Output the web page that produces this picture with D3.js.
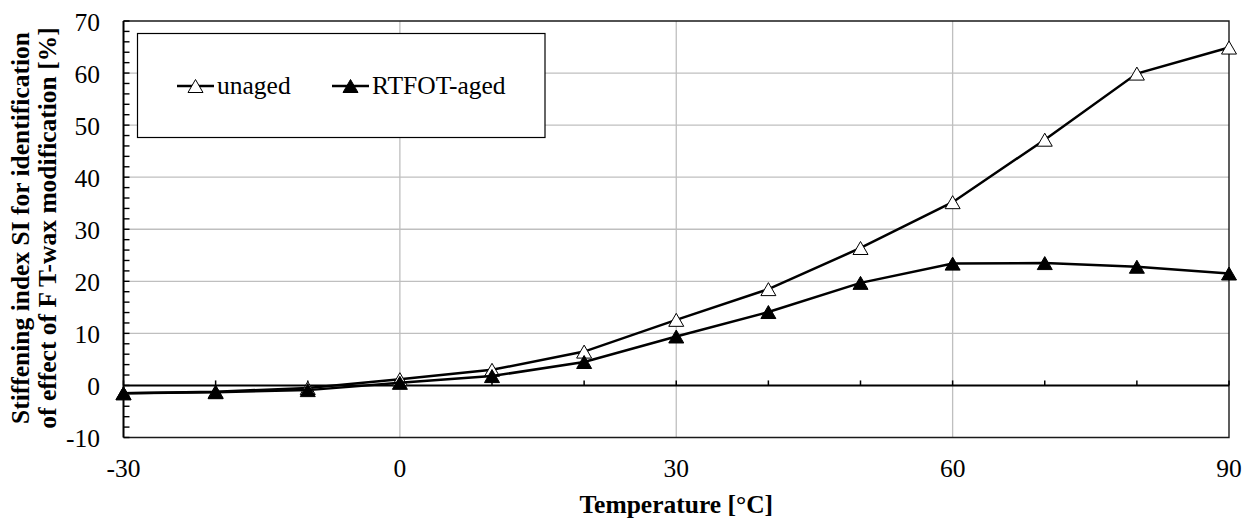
<!DOCTYPE html>
<html>
<head>
<meta charset="utf-8">
<script src="https://cdn.jsdelivr.net/npm/d3@7"></script>
<style>
  body { margin: 0; background: #fff; }
</style>
</head>
<body>
<div id="chart"></div>
<script>
// values
const temperatures = [-30, -20, -10, 0, 10, 20, 30, 40, 50, 60, 70, 80, 90];
const unagedValues = [-1.5, -1.2, -0.5, 1.2, 3.0, 6.5, 12.6, 18.5, 26.4, 35.2, 47.2, 59.9, 64.9];
const rtfotValues = [-1.5, -1.3, -0.9, 0.5, 1.8, 4.5, 9.4, 14.1, 19.7, 23.4, 23.5, 22.8, 21.5];

const xTicks = [-30, 0, 30, 60, 90];
const xMinorTicks = [-20, -10, 10, 20, 40, 50, 70, 80];
const yTicks = [-10, 0, 10, 20, 30, 40, 50, 60, 70];

const seriesNames = ["unaged", "RTFOT-aged"];
const xTitle = "Temperature [°C]";
const yTitleLines = [
  "Stiffening index SI for identification",
  "of effect of F T-wax modification [%]"
];

const width = 1252;
const height = 518;
const margin = { top: 21, right: 23, bottom: 80.5, left: 123.5 };
const fontFamily = "Liberation Serif";
const fontSize = 25.5;

const svg = d3.select("#chart")
  .append("svg")
  .attr("width", width)
  .attr("height", height)
  .style("display", "block");

const x = d3.scaleLinear()
  .domain([-30, 90])
  .range([margin.left, width - margin.right]);

const y = d3.scaleLinear()
  .domain([-10, 70])
  .range([height - margin.bottom, margin.top]);

const gridColor = "#bfbfbf";

// gridlines
svg.append("g")
  .selectAll("line")
  .data(yTicks.filter(d => d > 0 && d < 70))
  .join("line")
  .attr("x1", x(-30)).attr("x2", x(90))
  .attr("y1", d => y(d)).attr("y2", d => y(d))
  .attr("stroke", gridColor)
  .attr("stroke-width", 1.3);

svg.append("g")
  .selectAll("line")
  .data(xTicks.filter(d => d > -30 && d < 90))
  .join("line")
  .attr("x1", d => x(d)).attr("x2", d => x(d))
  .attr("y1", y(70)).attr("y2", y(-10))
  .attr("stroke", gridColor)
  .attr("stroke-width", 1.3);

// plot area border (top, right, bottom)
svg.append("path")
  .attr("d", `M${x(-30)},${y(70)}H${x(90)}V${y(-10)}H${x(-30)}`)
  .attr("fill", "none")
  .attr("stroke", "#1a1a1a")
  .attr("stroke-width", 1.4);

// x axis along y = 0
svg.append("line")
  .attr("x1", x(-30)).attr("x2", x(90))
  .attr("y1", y(0)).attr("y2", y(0))
  .attr("stroke", "#000")
  .attr("stroke-width", 2);

svg.append("g")
  .selectAll("line")
  .data(xMinorTicks.concat(xTicks))
  .join("line")
  .attr("x1", d => x(d)).attr("x2", d => x(d))
  .attr("y1", y(0)).attr("y2", y(0) - 5)
  .attr("stroke", "#000")
  .attr("stroke-width", 1.5);

// y axis
svg.append("line")
  .attr("x1", x(-30)).attr("x2", x(-30))
  .attr("y1", y(70)).attr("y2", y(-10))
  .attr("stroke", "#000")
  .attr("stroke-width", 2);

svg.append("g")
  .selectAll("line")
  .data(d3.range(-10, 71, 2))
  .join("line")
  .attr("x1", x(-30)).attr("x2", x(-30) + 6)
  .attr("y1", d => y(d)).attr("y2", d => y(d))
  .attr("stroke", "#000")
  .attr("stroke-width", 1.4);

// tick labels
svg.append("g")
  .selectAll("text")
  .data(yTicks)
  .join("text")
  .attr("x", x(-30) - 23.5)
  .attr("y", d => y(d) + 9.5)
  .attr("text-anchor", "end")
  .attr("font-family", fontFamily)
  .attr("font-size", fontSize)
  .text(d => d);

svg.append("g")
  .selectAll("text")
  .data(xTicks)
  .join("text")
  .attr("x", d => x(d))
  .attr("y", 477)
  .attr("text-anchor", "middle")
  .attr("font-family", fontFamily)
  .attr("font-size", fontSize)
  .text(d => d);

// axis titles
svg.append("text")
  .attr("x", (x(-30) + x(90)) / 2)
  .attr("y", 513)
  .attr("text-anchor", "middle")
  .attr("font-family", fontFamily)
  .attr("font-size", fontSize)
  .attr("font-weight", "bold")
  .text(xTitle);

svg.append("g")
  .attr("transform", "translate(0,228) rotate(-90)")
  .selectAll("text")
  .data(yTitleLines)
  .join("text")
  .attr("x", 0)
  .attr("y", (d, i) => 28.5 + i * 27)
  .attr("text-anchor", "middle")
  .attr("font-family", fontFamily)
  .attr("font-size", fontSize)
  .attr("font-weight", "bold")
  .text(d => d);

// series
const triangle = (w, h) => `M0,${-h / 2}L${w / 2},${h / 2}L${-w / 2},${h / 2}Z`;

const line = d3.line()
  .x(d => x(d[0]))
  .y(d => y(d[1]));

const series = [
  { name: seriesNames[0], values: unagedValues, fill: "#fff" },
  { name: seriesNames[1], values: rtfotValues, fill: "#000" }
];

series.forEach(s => {
  const points = temperatures.map((t, i) => [t, s.values[i]]);

  svg.append("path")
    .datum(points)
    .attr("d", line)
    .attr("fill", "none")
    .attr("stroke", "#000")
    .attr("stroke-width", 2.5);

  svg.append("g")
    .selectAll("path")
    .data(points)
    .join("path")
    .attr("transform", d => `translate(${x(d[0])},${y(d[1])})`)
    .attr("d", triangle(15, 13))
    .attr("fill", s.fill)
    .attr("stroke", "#000")
    .attr("stroke-width", 1);
});

// legend
const legend = svg.append("g");

legend.append("rect")
  .attr("x", 137.5)
  .attr("y", 33.5)
  .attr("width", 407.5)
  .attr("height", 104)
  .attr("fill", "#fff")
  .attr("stroke", "#000")
  .attr("stroke-width", 1.2);

const legendItems = [
  { name: seriesNames[0], fill: "#fff", x0: 177 },
  { name: seriesNames[1], fill: "#000", x0: 332 }
];

legendItems.forEach(item => {
  const cy = 86;
  legend.append("line")
    .attr("x1", item.x0).attr("x2", item.x0 + 37)
    .attr("y1", cy).attr("y2", cy)
    .attr("stroke", "#000")
    .attr("stroke-width", 2.5);

  legend.append("path")
    .attr("transform", `translate(${item.x0 + 18.5},${cy})`)
    .attr("d", triangle(15, 13))
    .attr("fill", item.fill)
    .attr("stroke", "#000")
    .attr("stroke-width", 1);

  legend.append("text")
    .attr("x", item.x0 + 40)
    .attr("y", 93.5)
    .attr("font-family", fontFamily)
    .attr("font-size", fontSize)
    .text(item.name);
});
</script>
</body>
</html>
